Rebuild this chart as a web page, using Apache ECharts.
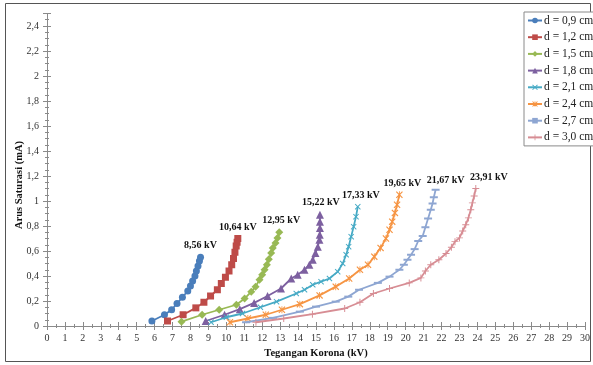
<!DOCTYPE html>
<html>
<head>
<meta charset="utf-8">
<script src="https://cdn.jsdelivr.net/npm/echarts@6/dist/echarts.min.js"></script>
<style>
  html, body { margin: 0; padding: 0; background: #fff; }
  #chart { width: 593px; height: 365px; }
</style>
</head>
<body>
<div id="chart"></div>
<script>
// Corona saturation current (mA) against corona voltage (kV), one curve per gap distance d
const seriesNames = ['d = 0,9 cm', 'd = 1,2 cm', 'd = 1,5 cm', 'd = 1,8 cm',
                     'd = 2,1 cm', 'd = 2,4 cm', 'd = 2,7 cm', 'd = 3,0 cm'];

const gap09 = [[5.85,0.04],[6.55,0.09],[6.95,0.13],[7.25,0.18],[7.55,0.23],[7.85,0.28],[8.0,0.32],
               [8.12,0.36],[8.25,0.40],[8.33,0.44],[8.42,0.48],[8.5,0.52],[8.56,0.55]];
const gap12 = [[6.72,0.04],[7.59,0.09],[8.3,0.145],[8.75,0.19],[9.12,0.24],[9.5,0.29],[9.72,0.34],
               [9.95,0.39],[10.15,0.44],[10.3,0.49],[10.4,0.54],[10.48,0.59],[10.55,0.64],[10.6,0.67],[10.64,0.70]];
const gap15 = [[7.5,0.035],[8.65,0.09],[9.6,0.13],[10.56,0.17],[11.02,0.22],[11.39,0.275],[11.63,0.315],
               [11.85,0.37],[12.0,0.41],[12.13,0.45],[12.26,0.49],[12.37,0.535],[12.5,0.585],[12.59,0.625],
               [12.74,0.665],[12.85,0.705],[12.95,0.75]];
const gap18 = [[8.85,0.04],[9.9,0.09],[10.75,0.135],[11.55,0.185],[12.3,0.24],[13.05,0.30],[13.62,0.38],
               [13.98,0.41],[14.36,0.45],[14.63,0.49],[14.82,0.53],[14.97,0.585],[15.1,0.635],[15.19,0.69],
               [15.21,0.73],[15.22,0.785],[15.22,0.835],[15.22,0.89]];
const gap21 = [[9.15,0.03],[10.0,0.07],[10.9,0.10],[11.9,0.15],[12.8,0.195],[13.9,0.26],[14.36,0.29],
               [14.82,0.33],[15.28,0.355],[15.75,0.38],[16.21,0.435],[16.49,0.50],[16.68,0.57],[16.82,0.635],
               [16.96,0.715],[17.1,0.795],[17.23,0.875],[17.33,0.955]];
const gap24 = [[10.2,0.03],[11.2,0.06],[12.2,0.09],[13.1,0.13],[14.1,0.175],[15.2,0.245],[16.1,0.315],
               [16.85,0.38],[17.45,0.45],[17.9,0.49],[18.25,0.555],[18.6,0.625],[18.9,0.70],[19.1,0.77],
               [19.25,0.835],[19.4,0.905],[19.52,0.97],[19.65,1.05]];
const gap27 = [[11.1,0.03],[12.6,0.065],[14.1,0.115],[15.0,0.155],[16.1,0.195],[16.8,0.235],[17.4,0.29],
               [18.45,0.345],[19.1,0.395],[19.65,0.45],[19.9,0.49],[20.1,0.53],[20.3,0.57],[20.5,0.615],
               [20.7,0.68],[20.95,0.72],[21.1,0.79],[21.25,0.86],[21.4,0.93],[21.5,0.98],[21.57,1.03],[21.67,1.09]];
const gap30 = [[11.65,0.03],[13.2,0.06],[14.8,0.095],[16.6,0.14],[17.45,0.19],[18.2,0.26],[19.1,0.30],
               [20.2,0.345],[20.85,0.385],[21.1,0.44],[21.4,0.49],[21.85,0.53],[22.25,0.58],[22.55,0.63],
               [22.75,0.675],[23.0,0.705],[23.18,0.76],[23.35,0.81],[23.5,0.865],[23.63,0.93],[23.72,0.985],
               [23.82,1.04],[23.91,1.10]];

const allSeries = [gap09, gap12, gap15, gap18, gap21, gap24, gap27, gap30];

// Marker shapes drawn as filled paths
const SYM_X = 'path://M0,1.2 L1.2,0 L5,3.8 L8.8,0 L10,1.2 L6.2,5 L10,8.8 L8.8,10 L5,6.2 L1.2,10 L0,8.8 L3.8,5 Z';
const SYM_STAR = 'path://M0,1.2 L1.2,0 L5,3.8 L8.8,0 L10,1.2 L6.2,5 L10,8.8 L8.8,10 L5,6.2 L1.2,10 L0,8.8 L3.8,5 Z M4.4,0 L5.6,0 L5.6,10 L4.4,10 Z';
const SYM_DASH = 'path://M0,0 L10,0 L10,2 L0,2 Z';
const SYM_PLUS = 'path://M4.3,0 L5.7,0 L5.7,4.3 L10,4.3 L10,5.7 L5.7,5.7 L5.7,10 L4.3,10 L4.3,5.7 L0,5.7 L0,4.3 L4.3,4.3 Z';

const styles = [
  { color: '#4A7EBB', symbol: 'circle',   size: 7 },
  { color: '#BE4B48', symbol: 'rect',     size: 7 },
  { color: '#98B954', symbol: 'diamond',  size: 8 },
  { color: '#7D60A0', symbol: 'triangle', size: 8 },
  { color: '#46AAC5', symbol: SYM_X,      size: 6 },
  { color: '#F69544', symbol: SYM_STAR,   size: 7 },
  { color: '#8EA6D2', symbol: SYM_DASH,   size: [8, 2] },
  { color: '#D78D94', symbol: SYM_PLUS,   size: 7 }
];
// Horizontal nudge of the end-value labels
const labelShift = [0, 0, 2, 1, 3, 3, 10, 13];

const SERIF = '"Liberation Serif", "DejaVu Serif", serif';
const fmtComma = v => String(+v.toFixed(2)).replace('.', ',');

const series = allSeries.map((pts, k) => ({
  name: seriesNames[k],
  type: 'line',
  symbol: styles[k].symbol,
  symbolSize: styles[k].size,
  showAllSymbol: true,
  color: styles[k].color,
  lineStyle: { width: 1.8, color: styles[k].color },
  itemStyle: { color: styles[k].color },
  data: pts.map((p, i) => i === pts.length - 1
    ? { value: p, label: {
          show: true, position: 'top', distance: 3, offset: [labelShift[k], 0],
          formatter: o => fmtComma(o.value[0]) + ' kV',
          fontFamily: SERIF, fontWeight: 'bold', fontSize: 10, color: '#111' } }
    : p),
  z: 3 + k
}));

const axisColor = '#8a8a8a';
const labelStyle = { fontFamily: SERIF, fontSize: 10, color: '#333' };

const chart = echarts.init(document.getElementById('chart'), null, { renderer: 'canvas' });
chart.setOption({
  animation: false,
  backgroundColor: '#fff',
  grid: { left: 47, right: 6, top: 13.5, bottom: 39, containLabel: false },
  legend: {
    data: seriesNames,
    orient: 'vertical',
    left: 524, top: 12,
    padding: [2, 3, 2, 3],
    itemGap: 3.7,
    itemWidth: 14, itemHeight: 7,
    backgroundColor: '#fff',
    borderColor: '#8a8a8a', borderWidth: 1,
    textStyle: { fontFamily: SERIF, fontSize: 11.5, color: '#222', lineHeight: 13, padding: [0, 0, 0, -3] }
  },
  xAxis: [{
    type: 'value', min: 0, max: 30, interval: 1,
    axisLine: { lineStyle: { color: axisColor, width: 1 } },
    axisTick: { show: true, length: 4, lineStyle: { color: axisColor } },
    minorTick: { show: true, splitNumber: 2, length: 2, lineStyle: { color: axisColor } },
    splitLine: { show: false },
    axisLabel: Object.assign({ margin: 7 }, labelStyle),
    name: 'Tegangan Korona (kV)', nameLocation: 'middle', nameGap: 21,
    nameTextStyle: { fontFamily: SERIF, fontWeight: 'bold', fontSize: 10.5, color: '#111' }
  }, {
    type: 'value', min: 0, max: 30, interval: 1, position: 'bottom',
    axisLine: { show: false },
    axisTick: { show: true, inside: true, length: 4, lineStyle: { color: axisColor } },
    minorTick: { show: true, splitNumber: 2, length: 2, lineStyle: { color: axisColor } },
    splitLine: { show: false }, axisLabel: { show: false }
  }],
  yAxis: [{
    type: 'value', min: 0, max: 2.5, interval: 0.2,
    axisLine: { show: true, lineStyle: { color: axisColor, width: 1 } },
    axisTick: { show: true, length: 4, lineStyle: { color: axisColor } },
    minorTick: { show: true, splitNumber: 4, length: 2, lineStyle: { color: axisColor } },
    splitLine: { show: false },
    axisLabel: Object.assign({ margin: 8, formatter: v => v > 2.45 ? '' : fmtComma(v) }, labelStyle)
  }, {
    type: 'value', min: 0, max: 2.5, interval: 0.2, position: 'left',
    axisLine: { show: false },
    axisTick: { show: true, inside: true, length: 4, lineStyle: { color: axisColor } },
    minorTick: { show: true, splitNumber: 4, length: 2, lineStyle: { color: axisColor } },
    splitLine: { show: false }, axisLabel: { show: false }
  }],
  graphic: [{
    type: 'rect', silent: true, z: -1,
    shape: { x: 5.5, y: 3.5, width: 585, height: 358 },
    style: { fill: 'none', stroke: '#555', lineWidth: 1 }
  }, {
    type: 'text', silent: true,
    x: 19, y: 185, rotation: Math.PI / 2,
    style: {
      text: 'Arus Saturasi (mA)', fontFamily: SERIF, fontWeight: 'bold', fontSize: 10.5,
      fill: '#111', align: 'center', verticalAlign: 'middle'
    }
  }],
  series: series
});
</script>
</body>
</html>
